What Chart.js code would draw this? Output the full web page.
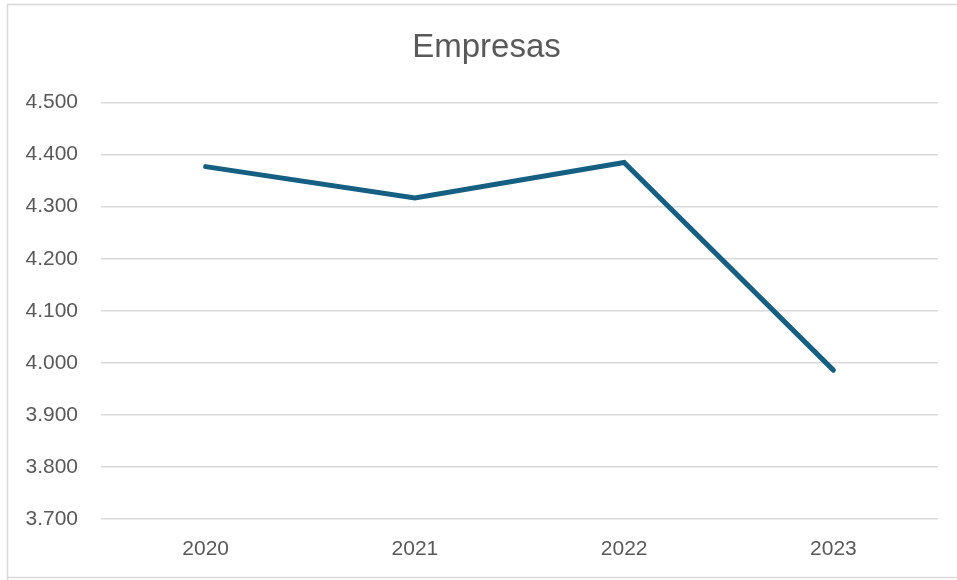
<!DOCTYPE html>
<html>
<head>
<meta charset="utf-8">
<script src="https://cdn.jsdelivr.net/npm/chart.js@4/dist/chart.umd.min.js"></script>
<style>
  html, body { margin: 0; padding: 0; background: #ffffff; }
  #wrap { position: relative; width: 957px; height: 580px; }
</style>
</head>
<body>
<div id="wrap"><canvas id="c" width="957" height="580"></canvas></div>
<script>
const categories = ["2020", "2021", "2022", "2023"];
const empresas = [4377, 4317, 4385, 3986];
const yMin = 3700, yMax = 4500, yStep = 100;
const chartTitle = "Empresas";

function fmt(v) {
  const n = Math.round(v);
  const th = Math.floor(n / 1000);
  const rest = String(n % 1000).padStart(3, '0');
  return th + '.' + rest;
}

const borderPlugin = {
  id: 'outerBorder',
  afterLayout(chart) {
    if (chart.titleBlock) {
      chart.titleBlock.left = 35;
      chart.titleBlock.right = chart.chartArea.right;
    }
  },
  beforeDraw(chart) {
    const ctx = chart.ctx;
    ctx.save();
    ctx.strokeStyle = '#d9d9d9';
    ctx.lineWidth = 1.5;
    ctx.beginPath();
    ctx.moveTo(7.5, 600);
    ctx.lineTo(7.5, 4.5);
    ctx.lineTo(1000, 4.5);
    ctx.moveTo(7.5, 577.5);
    ctx.lineTo(1000, 577.5);
    ctx.stroke();
    ctx.restore();
  }
};

new Chart(document.getElementById('c'), {
  type: 'line',
  data: {
    labels: categories,
    datasets: [{
      label: chartTitle,
      data: empresas,
      borderColor: '#156082',
      backgroundColor: '#156082',
      borderWidth: 5,
      borderCapStyle: 'round',
      borderJoinStyle: 'miter',
      pointRadius: 0,
      tension: 0,
      fill: false
    }]
  },
  options: {
    responsive: false,
    animation: false,
    devicePixelRatio: 1,
    layout: { padding: { left: 0, right: 19, top: 0, bottom: 18 } },
    plugins: {
      legend: { display: false },
      tooltip: { enabled: false },
      title: {
        display: true,
        text: chartTitle,
        color: '#595959',
        font: { family: 'Liberation Sans, Arial, sans-serif', size: 33, weight: 'normal' },
        padding: { top: 28, bottom: 35 }
      }
    },
    scales: {
      x: {
        offset: true,
        afterFit(scale) { scale.height = 43; },
        grid: { display: false, drawTicks: false, offset: true },
        border: { display: false },
        ticks: {
          color: '#595959',
          font: { family: 'Liberation Sans, Arial, sans-serif', size: 21 },
          padding: 18,
          maxRotation: 0
        }
      },
      y: {
        min: yMin, max: yMax,
        afterFit(scale) { scale.width = 101; },
        grid: { color: '#d9d9d9', lineWidth: 1.5, drawTicks: false },
        border: { display: false },
        ticks: {
          stepSize: yStep,
          color: '#595959',
          font: { family: 'Liberation Sans, Arial, sans-serif', size: 21 },
          padding: 23,
          callback: v => fmt(v)
        }
      }
    }
  },
  plugins: [borderPlugin]
});
</script>
</body>
</html>
